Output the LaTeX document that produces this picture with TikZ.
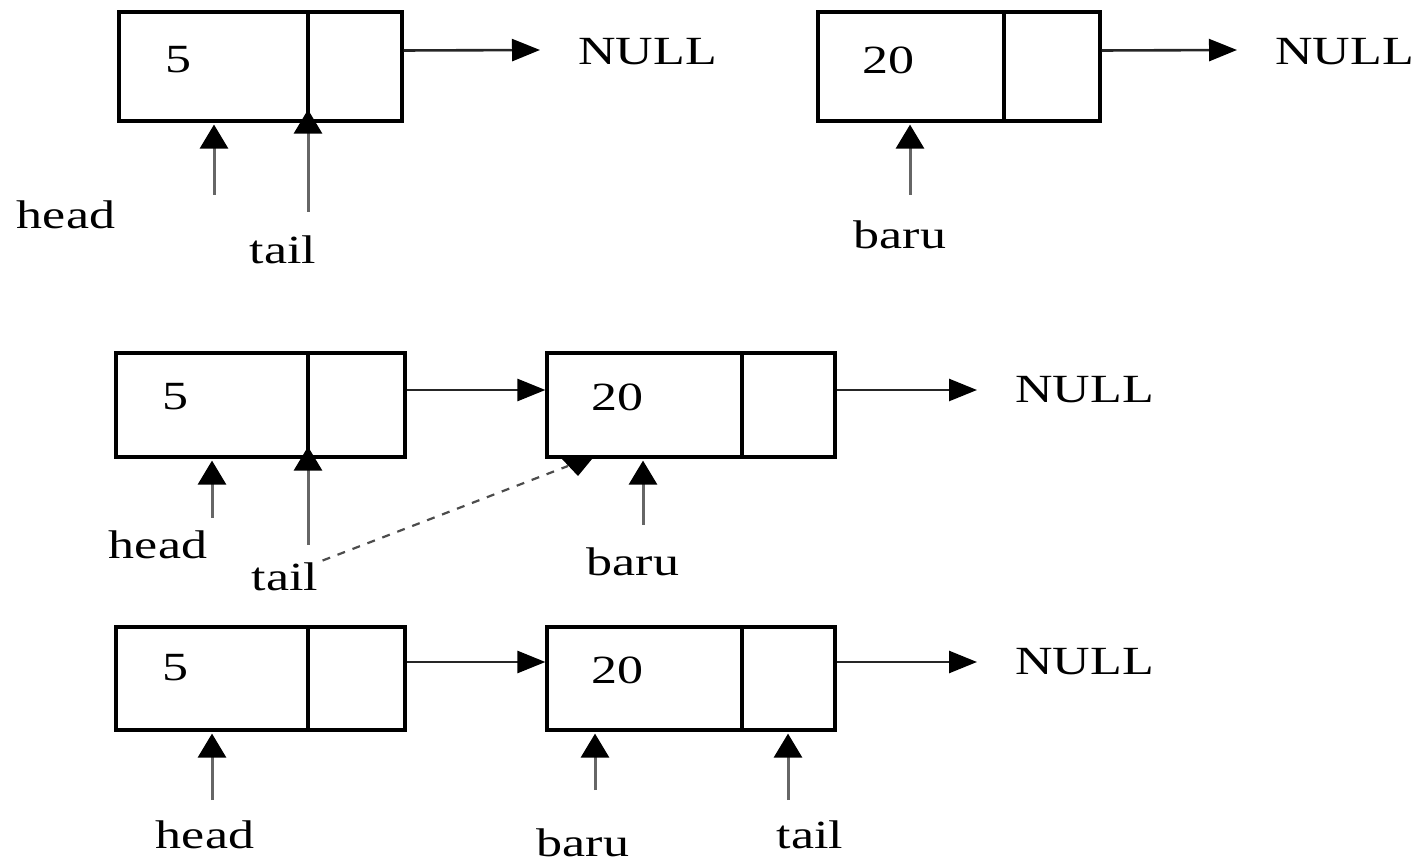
\documentclass[tikz,border=0pt]{standalone}
\usepackage{fontspec}
\usetikzlibrary{arrows.meta,calc}
\newfontfamily\lblfont[FakeStretch=1.3]{Liberation Serif}
\begin{document}
\begin{tikzpicture}[x=0.5pt,y=-0.5pt,
  cell/.style={draw=black,line width=1.6pt,rectangle,inner sep=0pt},
  txt/.style={inner sep=0pt,font=\lblfont\fontsize{20}{24}\selectfont},
  hptr/.style={line width=1.3pt,draw=black!85,-{Triangle[length=14pt,width=11pt,color=black]}},
  vptr/.style={line width=1.5pt,draw=black!60,-{Triangle[length=12pt,width=14pt,color=black]}},
  dashptr/.style={line width=1.1pt,draw=black!70,dash pattern=on 4pt off 4pt}]
\useasboundingbox (0,0) rectangle (1413,865);

% ---- state 1: list with one node, new node apart ----
\node[cell,minimum width=94.5pt,minimum height=54.5pt] (a1d) at (213.5,66.5) {};
\node[cell,minimum width=47pt,minimum height=54.5pt] (a1n) at (355,66.5) {};
\node[txt] (v1a) at (178,60) {5};
\node[txt,anchor=west] (n1a) at (578,52) {NULL};
\draw[hptr] ($(a1n.east)+(0,-16)$) -- ($(n1a.west)+(-38,-2)$);

\node[cell,minimum width=93pt,minimum height=54.5pt] (b1d) at (911,66.5) {};
\node[cell,minimum width=48pt,minimum height=54.5pt] (b1n) at (1052,66.5) {};
\node[txt] (v1b) at (888,60) {20};
\node[txt,anchor=west] (n1b) at (1275,52) {NULL};
\draw[hptr] ($(b1n.east)+(0,-16)$) -- ($(n1b.west)+(-38,-2)$);

\node[txt] (h1) at (66,215) {head};
\node[txt] (t1) at (283,250) {tail};
\node[txt] (r1) at (900,235) {baru};
\coordinate (h1s) at (214,195);
\coordinate (t1s) at (308,212);
\coordinate (r1s) at (910,195);
\draw[vptr] (h1s) -- ($(h1s |- a1d.south)+(0,2)$);
\draw[vptr] (t1s) -- ($(t1s |- a1d.south)+(0,-13)$);
\draw[vptr] (r1s) -- ($(r1s |- b1d.south)+(0,2)$);

% ---- state 2: tail->next = baru ----
\node[cell,minimum width=96pt,minimum height=52pt] (a2d) at (212,405) {};
\node[cell,minimum width=48.5pt,minimum height=52pt] (a2n) at (356.5,405) {};
\node[txt] (v2a) at (175,397) {5};
\node[cell,minimum width=97.5pt,minimum height=52pt] (b2d) at (644.5,405) {};
\node[cell,minimum width=46.5pt,minimum height=52pt] (b2n) at (788.5,405) {};
\node[txt] (v2b) at (617,397) {20};
\node[txt,anchor=west] (n2) at (1015,390) {NULL};
\draw[hptr] ($(a2n.east)+(0,-15)$) -- ($(b2d.west)+(0,-15)$);
\draw[hptr] ($(b2n.east)+(0,-15)$) -- ($(n2.west)+(-38,0)$);

\node[txt] (h2) at (158,545) {head};
\node[txt] (t2) at (285,577) {tail};
\node[txt] (r2) at (633,562) {baru};
\coordinate (h2s) at (212,518);
\coordinate (t2s) at (308,545);
\coordinate (r2s) at (643,525);
\draw[vptr] (h2s) -- ($(h2s |- a2d.south)+(0,2)$);
\draw[vptr] (t2s) -- ($(t2s |- a2d.south)+(0,-12)$);
\draw[vptr] (r2s) -- ($(r2s |- b2d.south)+(0,2)$);
\coordinate (dtip) at (568,466);
\draw[dashptr] ($(t2.north east)+(4,-2)$) -- (dtip);
\fill[black] (562,459) -- (592,459) -- (578,476) -- cycle;

% ---- state 3: tail = baru ----
\node[cell,minimum width=96pt,minimum height=51.5pt] (a3d) at (212,678.5) {};
\node[cell,minimum width=48.5pt,minimum height=51.5pt] (a3n) at (356.5,678.5) {};
\node[txt] (v3a) at (175,668) {5};
\node[cell,minimum width=97.5pt,minimum height=51.5pt] (b3d) at (644.5,678.5) {};
\node[cell,minimum width=46.5pt,minimum height=51.5pt] (b3n) at (788.5,678.5) {};
\node[txt] (v3b) at (617,670) {20};
\node[txt,anchor=west] (n3) at (1015,662) {NULL};
\draw[hptr] ($(a3n.east)+(0,-16.5)$) -- ($(b3d.west)+(0,-16.5)$);
\draw[hptr] ($(b3n.east)+(0,-16.5)$) -- ($(n3.west)+(-38,0)$);

\node[txt] (h3) at (205,835) {head};
\node[txt] (r3) at (583,843) {baru};
\node[txt] (t3) at (810,835) {tail};
\coordinate (h3s) at (212,800);
\coordinate (r3s) at (595,790);
\coordinate (t3s) at (788,800);
\draw[vptr] (h3s) -- ($(h3s |- a3d.south)+(0,2)$);
\draw[vptr] (r3s) -- ($(r3s |- b3d.south)+(0,2)$);
\draw[vptr] (t3s) -- ($(t3s |- b3d.south)+(0,2)$);
\end{tikzpicture}
\end{document}
